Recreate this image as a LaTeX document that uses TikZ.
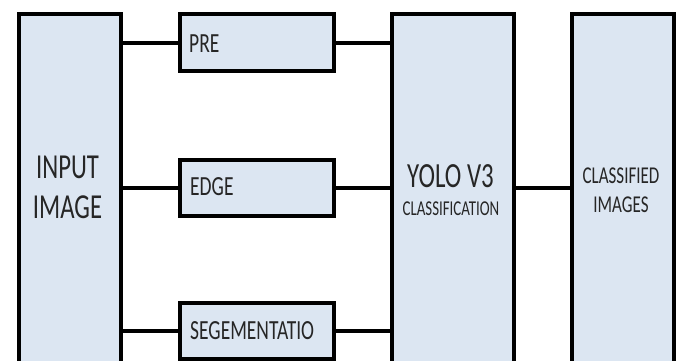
\documentclass[tikz,border=0pt]{standalone}
\usepackage{fontspec}
\setmainfont{Carlito}
\definecolor{boxfill}{HTML}{DCE6F2}
\definecolor{txt}{HTML}{262626}
\tikzset{
  blk/.style={draw=black, line width=4pt, fill=boxfill, anchor=north west, inner sep=0pt},
  conn/.style={draw=black, line width=4pt},
  lbl/.style={text=txt, inner sep=0pt},
}
\newcommand{\tallt}[2]{{\fontsize{#1}{#1}\selectfont\scalebox{1}[1.42]{#2}}}
\begin{document}
\begin{tikzpicture}[x=1pt,y=-1pt]
\clip (0,0) rectangle (678,360);
\fill[white] (0,0) rectangle (678,360);
% boxes
\node[blk, minimum width=102pt, minimum height=370pt] (in) at (17,12) {};
\node[blk, minimum width=154pt, minimum height=57pt] (pre) at (178,12) {};
\node[blk, minimum width=154pt, minimum height=56pt] (edge) at (178,158) {};
\node[blk, minimum width=154pt, minimum height=56pt] (seg) at (178,301) {};
\node[blk, minimum width=122pt, minimum height=370pt] (yolo) at (390,12) {};
\node[blk, minimum width=102pt, minimum height=370pt] (cls) at (570,12) {};
% connectors
\draw[conn] (in.east |- pre.west) -- (pre.west);
\draw[conn] (in.east |- edge.west) -- (edge.west);
\draw[conn] (in.east |- seg.west) -- (seg.west);
\draw[conn] (pre.east) -- (yolo.west |- pre.east);
\draw[conn] (edge.east) -- (yolo.west |- edge.east);
\draw[conn] (seg.east) -- (yolo.west |- seg.east);
\draw[conn] (yolo.east |- edge.east) -- (cls.west |- edge.east);
% labels
\node[lbl, anchor=base] (t1) at (67.5,178) {\tallt{24.7pt}{INPUT}};
\node[lbl, anchor=base] (t2) at (67.5,218) {\tallt{24.7pt}{IMAGE}};
\node[lbl, anchor=base west] (t3) at (189,52) {\tallt{19.5pt}{PRE}};
\node[lbl, anchor=base west] (t4) at (190,195) {\tallt{19.5pt}{EDGE}};
\node[lbl, anchor=base west] (t5) at (190,339) {\tallt{19.5pt}{SEGEMENTATIO}};
\node[lbl, anchor=base] (t6) at (450.5,187) {\tallt{24.9pt}{YOLO V3}};
\node[lbl, anchor=base] (t7) at (451,215) {\tallt{14.9pt}{CLASSIFICATION}};
\node[lbl, anchor=base] (t8) at (621,183) {\tallt{17pt}{CLASSIFIED}};
\node[lbl, anchor=base] (t9) at (621,212) {\tallt{17pt}{IMAGES}};
\end{tikzpicture}
\end{document}
